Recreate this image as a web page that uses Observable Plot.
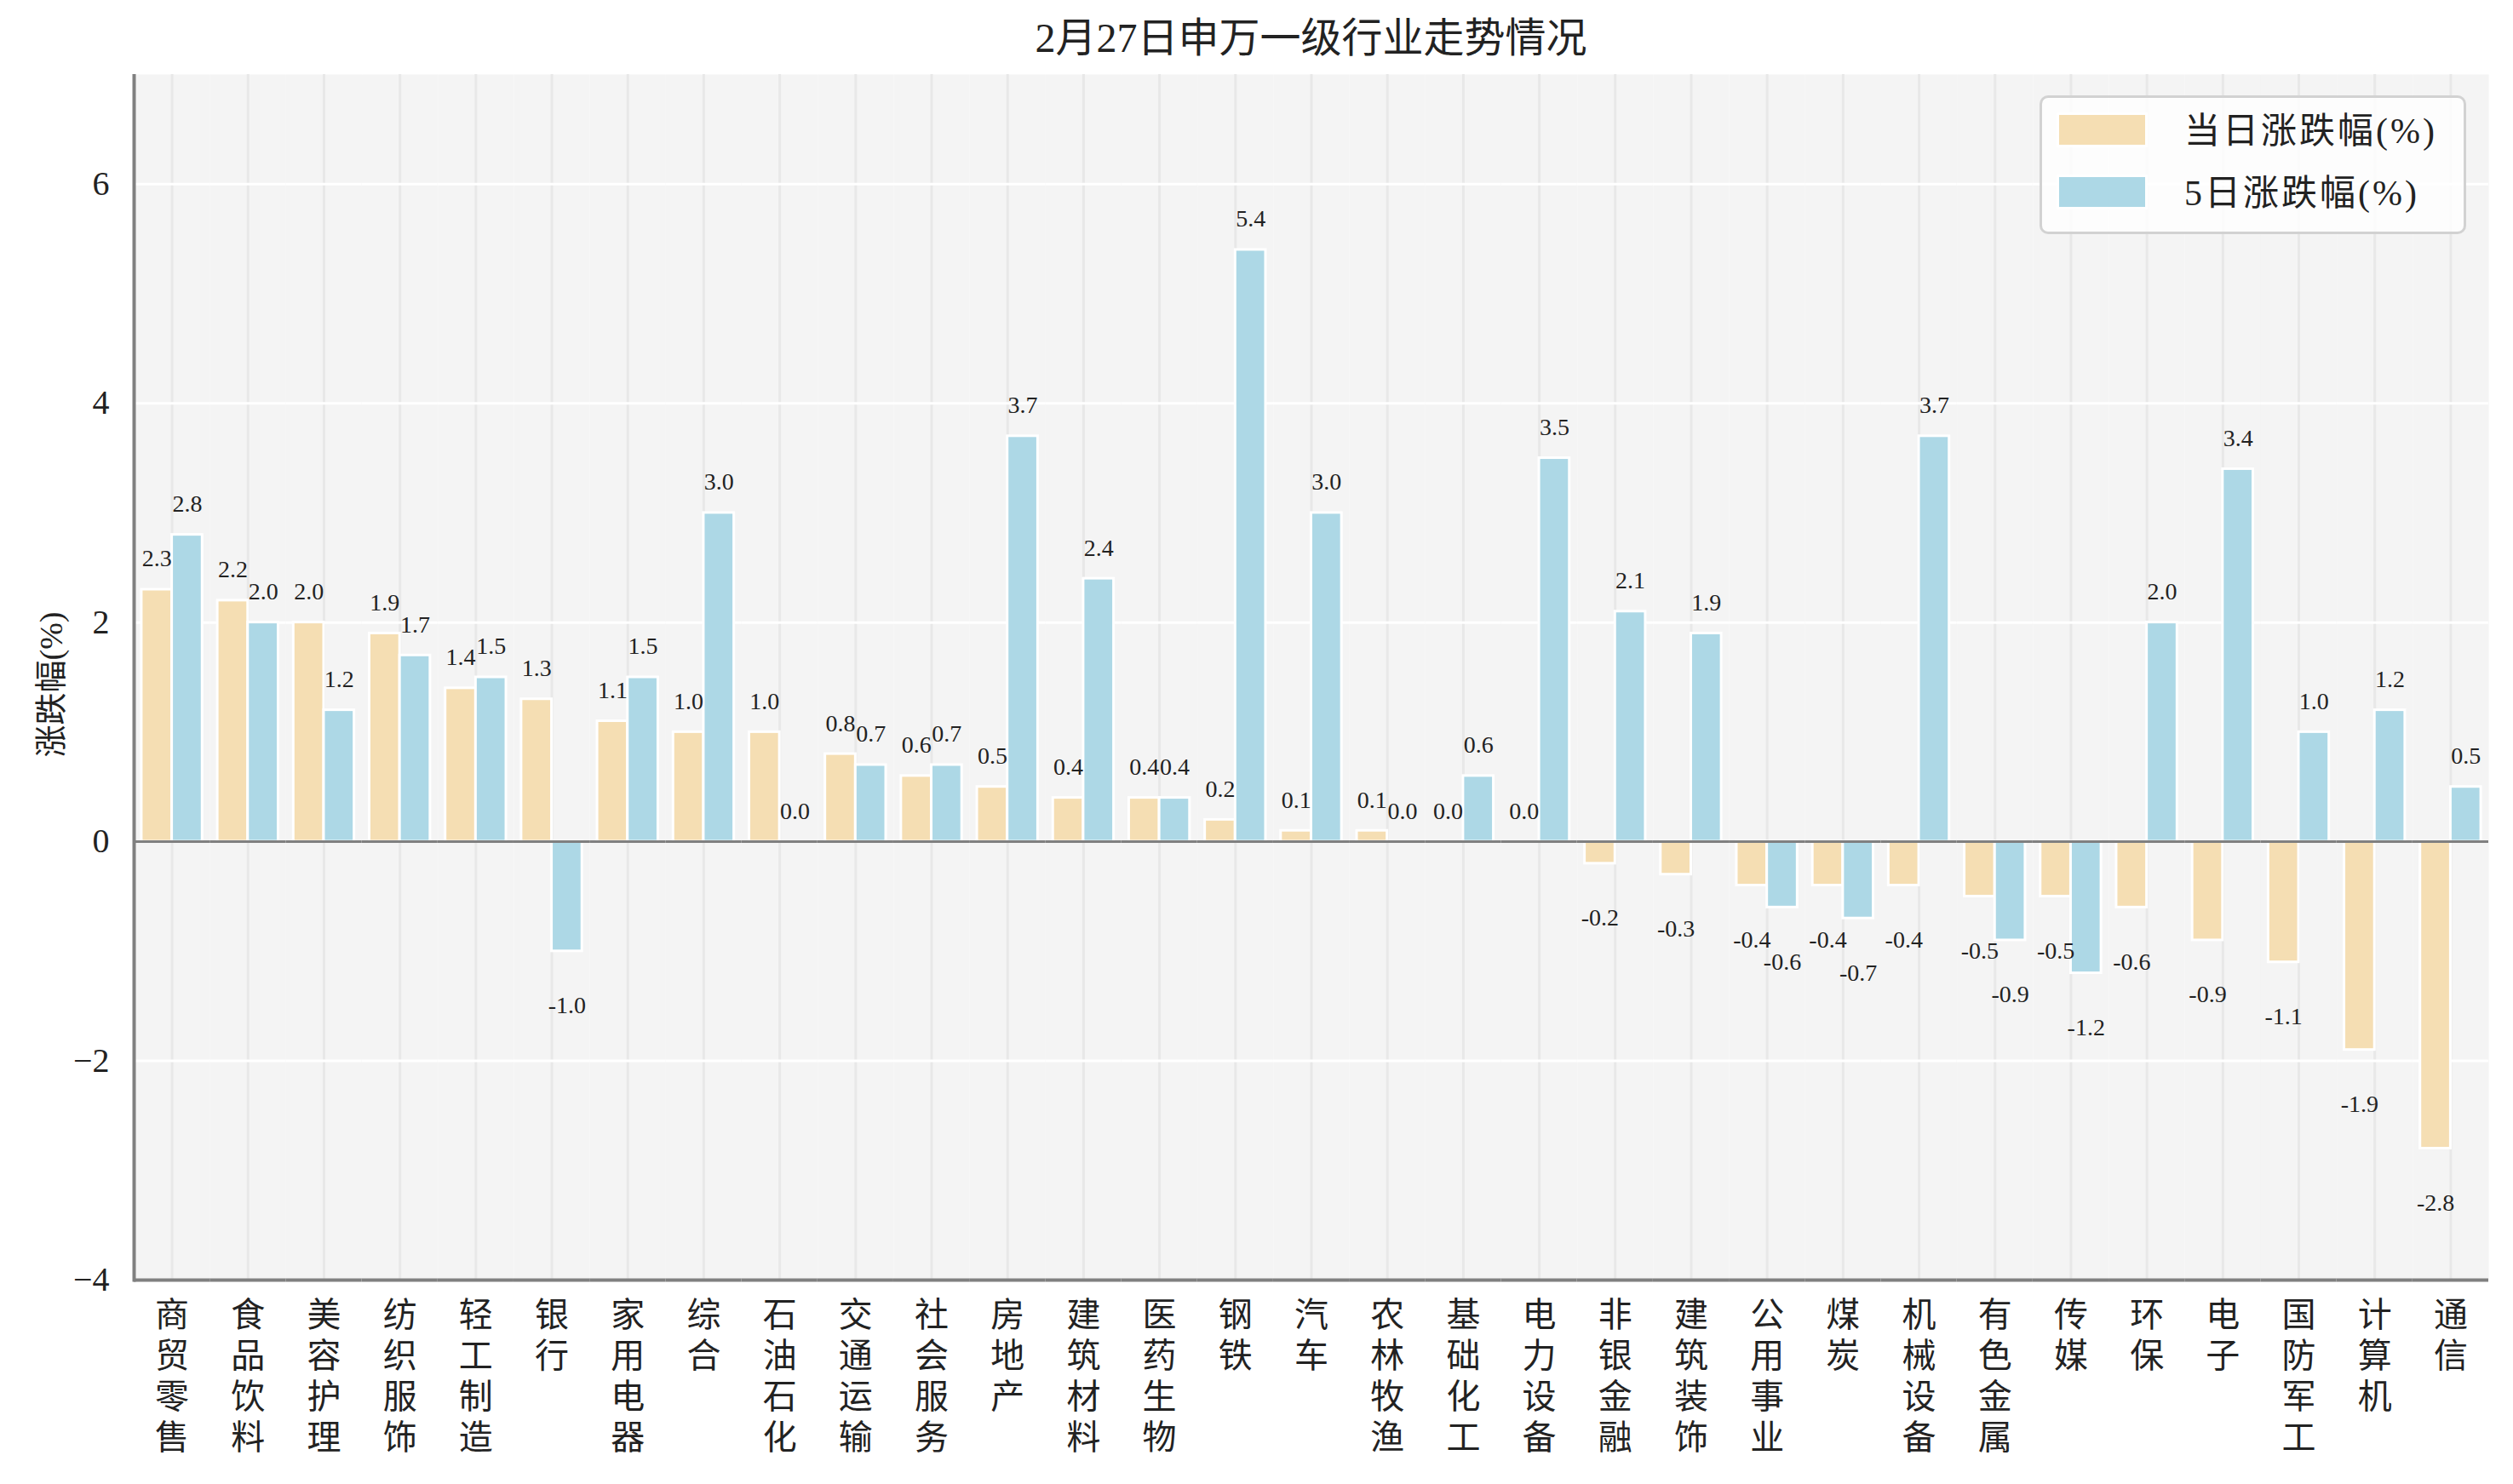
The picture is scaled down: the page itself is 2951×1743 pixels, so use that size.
<!DOCTYPE html>
<html>
<head>
<meta charset="utf-8">
<script src="https://cdn.jsdelivr.net/npm/d3@7"></script>
<script src="https://cdn.jsdelivr.net/npm/@observablehq/plot@0.6"></script>
<style>
  body { margin: 0; background: #fff; }
  #wrap { position: relative; width: 2951px; height: 1743px; font-family: "Liberation Serif", "Noto Sans CJK SC", serif; color: #222; }
  #title { position: absolute; left: 157px; width: 2765px; top: 16px; text-align: center; font-size: 48px; line-height: 58px; }
  #chart { position: absolute; left: 0; top: 87px; }
  #ylabel { position: absolute; left: 56px; top: 804px; transform: translate(-50%, -50%) rotate(-90deg); font-size: 38px; white-space: nowrap; }
  #legend { position: absolute; left: 2395px; top: 112px; width: 495px; height: 157px; border: 3px solid #d2d2d2; border-radius: 10px; background: rgba(255,255,255,0.8); }
  .item { position: absolute; left: 0; height: 40px; display: flex; align-items: center; }
  .sw { position: absolute; left: 17px; width: 101px; height: 35px; border: 3px solid #fff; box-sizing: content-box; }
  .lab { position: absolute; left: 167px; font-size: 42px; white-space: nowrap; letter-spacing: 3px; line-height: 50px; }
</style>
</head>
<body>
<div id="wrap">
  <div id="title"></div>
  <div id="ylabel"></div>
  <div id="chart"></div>
  <div id="legend"></div>
</div>
<script>
const titleText = "2月27日申万一级行业走势情况";
const yLabelText = "涨跌幅(%)";
const categories = ["商贸零售","食品饮料","美容护理","纺织服饰","轻工制造","银行","家用电器","综合","石油石化","交通运输","社会服务","房地产","建筑材料","医药生物","钢铁","汽车","农林牧渔","基础化工","电力设备","非银金融","建筑装饰","公用事业","煤炭","机械设备","有色金属","传媒","环保","电子","国防军工","计算机","通信"];
const dayChange = [2.3,2.2,2.0,1.9,1.4,1.3,1.1,1.0,1.0,0.8,0.6,0.5,0.4,0.4,0.2,0.1,0.1,0.0,0.0,-0.2,-0.3,-0.4,-0.4,-0.4,-0.5,-0.5,-0.6,-0.9,-1.1,-1.9,-2.8];
const fiveDayChange = [2.8,2.0,1.2,1.7,1.5,-1.0,1.5,3.0,0.0,0.7,0.7,3.7,2.4,0.4,5.4,3.0,0.0,0.6,3.5,2.1,1.9,-0.6,-0.7,3.7,-0.9,-1.2,2.0,3.4,1.0,1.2,0.5];
const seriesNames = ["当日涨跌幅(%)", "5日涨跌幅(%)"];
const seriesColors = ["#F5DEB3", "#ADD8E6"];
const yTicks = [-4, -2, 0, 2, 4, 6];
const yDomain = [-4, 7];

const rows = categories.flatMap((c, i) => [
  {category: c, series: seriesNames[0], value: dayChange[i]},
  {category: c, series: seriesNames[1], value: fiveDayChange[i]}
]);

document.getElementById("title").textContent = titleText;
document.getElementById("ylabel").textContent = yLabelText;

const fontFamily = '"Liberation Serif", "Noto Sans CJK SC", serif';

const chart = Plot.plot({
  width: 2951,
  height: 1656,
  marginLeft: 157,
  marginRight: 29,
  marginTop: 0,
  marginBottom: 240,
  style: {fontFamily, fontSize: "28px", color: "#222", background: "transparent"},
  fx: {domain: categories, padding: 0, round: false, label: null},
  x: {domain: seriesNames, paddingInner: 0, paddingOuter: 0.25, round: false, axis: null},
  y: {domain: yDomain, label: null},
  color: {domain: seriesNames, range: seriesColors},
  marks: [
    Plot.frame({fill: "#f4f4f4", stroke: null}),
    Plot.gridFx({stroke: "#e8e8e8", strokeOpacity: 1, strokeWidth: 3}),
    Plot.gridY(yTicks, {stroke: "#ffffff", strokeOpacity: 1, strokeWidth: 3}),
    Plot.barY(rows, {fx: "category", x: "series", y: "value", fill: "series", stroke: "#ffffff", strokeWidth: 3}),
    Plot.ruleY([0], {stroke: "#808080", strokeWidth: 3}),
    Plot.ruleY([yDomain[0]], {stroke: "#808080", strokeWidth: 4}),
    Plot.frame({anchor: "left", stroke: "#808080", strokeWidth: 4, facetAnchor: "left"}),
    Plot.text(rows.filter(d => d.value >= 0), {fx: "category", x: "series", y: "value", text: d => d.value.toFixed(1), dy: -36, fontSize: 28, fill: "#222"}),
    Plot.text(rows.filter(d => d.value < 0), {fx: "category", x: "series", y: "value", text: d => d.value.toFixed(1), dy: 64, fontSize: 28, fill: "#222"}),
    Plot.axisY(yTicks, {tickSize: 0, tickPadding: 29, fontSize: 40, label: null, fill: "#222", tickFormat: d3.format("d")}),
    Plot.axisFx({anchor: "bottom", tickSize: 0, tickPadding: 20, fontSize: 40, lineHeight: 1.2, label: null, fill: "#222", tickFormat: d => d.split("").join("\n")})
  ]
});
document.getElementById("chart").appendChild(chart);

const legend = document.getElementById("legend");
seriesNames.forEach((name, i) => {
  const item = document.createElement("div");
  item.className = "item";
  item.style.top = (i === 0 ? 17 : 90) + "px";
  item.style.width = "100%";
  const sw = document.createElement("div");
  sw.className = "sw";
  sw.style.background = seriesColors[i];
  sw.style.top = "0px";
  const lab = document.createElement("div");
  lab.className = "lab";
  lab.style.top = "-3px";
  lab.textContent = name;
  item.appendChild(sw);
  item.appendChild(lab);
  legend.appendChild(item);
});
</script>
</body>
</html>
